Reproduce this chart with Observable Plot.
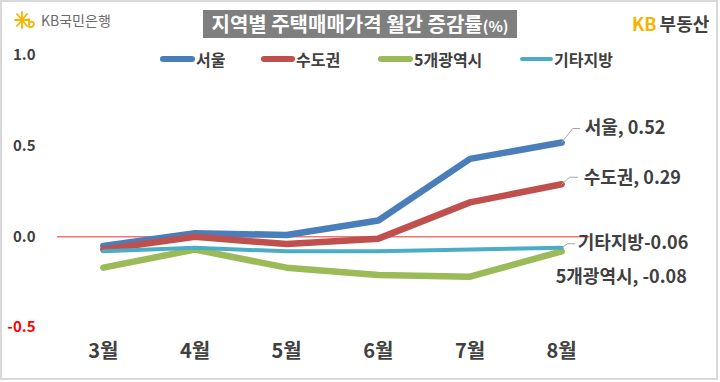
<!DOCTYPE html>
<html>
<head>
<meta charset="utf-8">
<script src="https://cdn.jsdelivr.net/npm/d3@7"></script>
<script src="https://cdn.jsdelivr.net/npm/@observablehq/plot@0.6"></script>
<style>
  html, body { margin: 0; padding: 0; background: #fff; }
  body { width: 720px; height: 382px; overflow: hidden; position: relative; font-family: "Noto Sans CJK KR", "Noto Sans", sans-serif; }
  #chart { position: absolute; left: 0; top: 0; }
  .frame { position: absolute; left: 0; top: 0; width: 714px; height: 376px; border: 2px solid #d9d9d9; pointer-events: none; }
  .title { position: absolute; left: 203px; top: 10px; width: 314px; height: 28px; background: #7f7f7f; color: #fff; font-weight: 700; font-size: 20px; line-height: 28px; text-align: center; white-space: nowrap; letter-spacing: 0px; }
  .title small { font-size: 15px; }
  .kbbank { position: absolute; left: 14px; top: 9px; height: 22px; display: flex; align-items: center; color: #6b6b6b; font-size: 14px; }
  .kbland { position: absolute; left: 632px; top: 10px; font-size: 18px; font-weight: 700; color: #404040; white-space: nowrap; }
  .kbland .kb { color: #f5b400; margin-right: 3px; }
  .legend { position: absolute; top: 49px; left: 0; height: 20px; }
  .item { position: absolute; top: 0; display: flex; align-items: center; height: 20px; font-size: 16px; font-weight: 700; color: #404040; white-space: nowrap; }
  .item i { display: inline-block; height: 6px; border-radius: 3px; margin-right: 1px; }
</style>
</head>
<body>
<div id="chart"></div>
<div class="title">지역별 주택매매가격 월간 증감률<small>(%)</small></div>
<div class="kbbank">
  <svg width="24" height="20" viewBox="0 0 24 20">
    <g stroke="#f5b400" stroke-width="1.8" stroke-linecap="round" fill="none">
      <line x1="8" y1="2" x2="8" y2="18"/>
      <line x1="1" y1="10" x2="15" y2="10"/>
      <line x1="3" y1="4" x2="13" y2="16"/>
      <line x1="13" y1="4" x2="3" y2="16"/>
      <path d="M15 9 L15 17 Q19 18 20 14 Q20 11 16 12"/>
    </g>
  </svg>
  <span style="margin-left:3px">KB국민은행</span>
</div>
<div class="kbland"><span class="kb">KB</span>부동산</div>
<div class="legend" id="legend"></div>
<div class="frame"></div>
<script>
const months = ["3월", "4월", "5월", "6월", "7월", "8월"];
const seriesNames = ["서울", "수도권", "5개광역시", "기타지방"];
const seoul   = [-0.05, 0.02, 0.01, 0.09, 0.43, 0.52];
const capital = [-0.07, 0.00, -0.04, -0.01, 0.19, 0.29];
const metro   = [-0.17, -0.07, -0.17, -0.21, -0.22, -0.08];
const others  = [-0.08, -0.06, -0.08, -0.08, -0.07, -0.06];
const yTicks = [1.0, 0.5, 0.0, -0.5];

const seriesValues = [seoul, capital, metro, others];
const colors = ["#4a7ebb", "#c0504d", "#9bbb59", "#4bacc6"];
const widths = [6.5, 6.5, 6.5, 4];

const table = seriesNames.flatMap((s, k) => seriesValues[k].map((v, i) => ({series: s, k, i, v})));
const last = seriesNames.map((s, k) => ({series: s, k, i: months.length - 1, v: seriesValues[k][months.length - 1]}));
const locale = d3.formatLocale({decimal: ".", thousands: ",", grouping: [3], currency: ["", ""], minus: "-"});
const fmt = locale.format(".2f");
const fmt1 = locale.format(".1f");

const font = {fontFamily: "Noto Sans CJK KR, Noto Sans, sans-serif", fontWeight: 700};
const pxX = 1 / 91.67, pxY = 1 / 181;

function leader(d, ax, ay, bx) {
  return [
    {x: d.i, y: d.v},
    {x: d.i + ax * pxX, y: d.v + ay * pxY},
    {x: d.i + bx * pxX, y: d.v + ay * pxY}
  ];
}

const labelSpec = [
  {k: 0, text: d => `${d.series}, ${fmt(d.v)}`, dx: 23, dy: -14},
  {k: 1, text: d => `${d.series}, ${fmt(d.v)}`, dx: 22, dy: -6},
  {k: 3, text: d => `${d.series}${fmt(d.v)}`, dx: 16, dy: -4},
  {k: 2, text: d => `${d.series}, ${fmt(d.v)}`, dx: -6, dy: 26}
];

const plot = Plot.plot({
  width: 720,
  height: 382,
  marginLeft: 57,
  marginRight: 113,
  marginTop: 55,
  marginBottom: 55,
  x: {type: "linear", domain: [-0.5, months.length - 0.5], axis: null},
  y: {domain: [-0.5, 1.0], axis: null},
  marks: [
    Plot.ruleY([0], {x1: -0.5, x2: 5.31, stroke: "#e8322e", strokeWidth: 1}),
    ...seriesNames.map((s, k) => Plot.line(table.filter(d => d.k === k), {
      x: "i", y: "v", stroke: colors[k], strokeWidth: widths[k], strokeLinejoin: "round", strokeLinecap: "round"
    })),
    Plot.line(leader(last[0], 11, 14, 18), {x: "x", y: "y", stroke: "#a6a6a6", strokeWidth: 1}),
    Plot.line(leader(last[1], 8, 7, 16), {x: "x", y: "y", stroke: "#a6a6a6", strokeWidth: 1}),
    Plot.line(leader(last[3], 6, 4, 13), {x: "x", y: "y", stroke: "#a6a6a6", strokeWidth: 1}),
    ...labelSpec.map(sp => Plot.text([last[sp.k]], {
      x: "i", y: "v", text: sp.text, dx: sp.dx, dy: sp.dy, textAnchor: "start",
      fill: "#404040", fontSize: 18, ...font
    })),
    Plot.text(yTicks.filter(d => d >= 0), {y: d => d, text: d => fmt1(d), frameAnchor: "left", dx: -22, textAnchor: "end", fill: "#404040", fontSize: 15, ...font}),
    Plot.text(yTicks.filter(d => d < 0), {y: d => d, text: d => fmt1(d), frameAnchor: "left", dx: -22, textAnchor: "end", fill: "#ff0000", fontSize: 15, ...font}),
    Plot.text(months, {x: (d, i) => i, text: d => d, frameAnchor: "bottom", dy: 30, fill: "#404040", fontSize: 20, ...font})
  ]
});
document.getElementById("chart").appendChild(plot);

// legend
const legendPos = [
  {line: [160, 35], text: 195},
  {line: [261, 34], text: 295},
  {line: [378, 35], text: 413},
  {line: [520, 33], text: 553}
];
const legend = document.getElementById("legend");
seriesNames.forEach((s, k) => {
  const it = document.createElement("div");
  it.className = "item";
  it.style.left = legendPos[k].line[0] + "px";
  const sw = document.createElement("i");
  sw.style.width = legendPos[k].line[1] + "px";
  sw.style.background = colors[k];
  if (k === 3) { sw.style.height = "4px"; }
  it.appendChild(sw);
  const t = document.createElement("span");
  t.textContent = s;
  it.appendChild(t);
  legend.appendChild(it);
});
</script>
</body>
</html>
